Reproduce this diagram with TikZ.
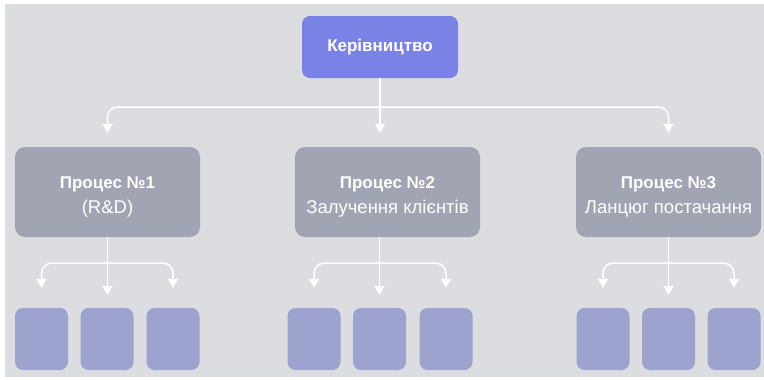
\documentclass[tikz,border=0pt]{standalone}
\usepackage{fontspec}
\setmainfont{Liberation Sans}
\usetikzlibrary{arrows.meta}
\definecolor{bg}{RGB}{220,221,225}
\definecolor{leadfill}{RGB}{122,130,230}
\definecolor{procfill}{RGB}{161,164,178}
\definecolor{unitfill}{RGB}{157,162,206}
\def\lift{\rule{0pt}{22pt}}
\def\head#1{{\fontsize{17}{25}\selectfont\bfseries #1}}
\begin{document}
\begin{tikzpicture}[x=1pt,y=-1pt,
  headbox/.style={fill=leadfill,rounded corners=8pt,minimum width=156pt,
    minimum height=62pt,text=white,font=\bfseries\fontsize{17}{20}\selectfont},
  procbox/.style={fill=procfill,rounded corners=10pt,minimum width=185pt,
    minimum height=90pt,text=white,align=center,font=\fontsize{18.5}{25}\selectfont},
  unitbox/.style={fill=unitfill,rounded corners=8pt,minimum width=53pt,minimum height=62pt},
  link/.style={white,line width=1.5pt},
  arr/.style={link,-{Triangle[width=10pt,length=9pt]},rounded corners=10pt}]
\useasboundingbox (0,0) rectangle (764,380);
\fill[white] (0,0) rectangle (764,380);
\fill[bg] (5,4) rectangle (764,377);
% top
\node[headbox] (lead) at (380,47) {Керівництво};
% processes
\node[procbox] (p1) at (107.5,192) {\lift\head{Процес №1}\\(R\&D)};
\node[procbox] (p2) at (387.5,192) {\lift\head{Процес №2}\\Залучення клієнтів};
\node[procbox] (p3) at (668.5,192) {\lift\head{Процес №3}\\Ланцюг постачання};
% units
\node[unitbox] (u11) at (41.5,339) {};
\node[unitbox] (u12) at (107,339) {};
\node[unitbox] (u13) at (173,339) {};
\node[unitbox] (u21) at (314,339) {};
\node[unitbox] (u22) at (379.5,339) {};
\node[unitbox] (u23) at (446,339) {};
\node[unitbox] (u31) at (603,339) {};
\node[unitbox] (u32) at (668.5,339) {};
\node[unitbox] (u33) at (734,339) {};
% lead -> processes
\coordinate (hub) at (380,107);
\draw[link] (lead) -- (hub);
\draw[arr,shorten >=14pt] (hub) -| (p1.north);
\draw[arr,shorten >=14pt] (lead) -- (lead |- p2.north);
\draw[arr,shorten >=14pt] (hub) -| (p3.north);
% process 1
\path (p1.south) ++(0,26) coordinate (b1);
\draw[link] (p1) -- (b1);
\draw[arr,shorten >=20pt] (b1) -| (u11.north);
\draw[arr,shorten >=20pt] (b1) -| (u13.north);
\draw[arr,shorten >=13pt] (p1) -- (p1 |- u12.north);
% process 2
\path (p2.south -| u22) ++(0,26) coordinate (b2);
\draw[arr,shorten >=20pt] (b2) -| (u21.north);
\draw[arr,shorten >=20pt] (b2) -| (u23.north);
\draw[arr,shorten >=13pt] (p2.south -| u22) -- (u22.north);
% process 3
\path (p3.south) ++(0,26) coordinate (b3);
\draw[link] (p3) -- (b3);
\draw[arr,shorten >=20pt] (b3) -| (u31.north);
\draw[arr,shorten >=20pt] (b3) -| (u33.north);
\draw[arr,shorten >=13pt] (p3) -- (p3 |- u32.north);
\end{tikzpicture}
\end{document}
